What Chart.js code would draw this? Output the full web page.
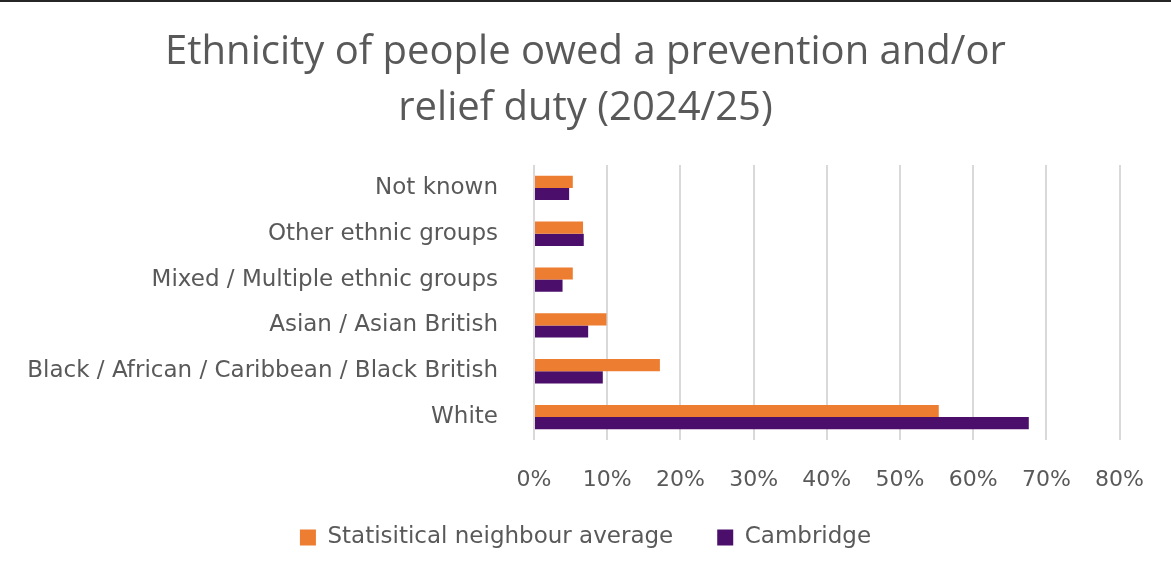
<!DOCTYPE html>
<html>
<head>
<meta charset="utf-8">
<script src="https://cdn.jsdelivr.net/npm/chart.js@4.4.1/dist/chart.umd.min.js"></script>
<style>
  html, body { margin: 0; padding: 0; background: #fff; }
  #wrap { width: 1171px; height: 577px; box-sizing: border-box; border-top: 2px solid #262626; }
</style>
</head>
<body>
<div id="wrap"><canvas id="ethnicityChart" width="1171" height="575"></canvas></div>
<script>
// ethnicity of households owed a duty, 2024/25 (share of total)
const categories = [
    'Not known',
    'Other ethnic groups',
    'Mixed / Multiple ethnic groups',
    'Asian / Asian British',
    'Black / African / Caribbean / Black British',
    'White'
];
const neighbourAvg = [5.3, 6.7, 5.3, 9.9, 17.2, 55.3];
const cambridge = [4.8, 6.8, 3.9, 7.4, 9.4, 67.6];
const xTicks = [0, 10, 20, 30, 40, 50, 60, 70, 80];

const textColor = '#595959';
const titleFont = '"Open Sans", "Noto Sans", sans-serif';
const labelFont = '"DejaVu Sans", "Noto Sans", sans-serif';

// legend padding also spaces the two items apart, so pull the box back up a bit
const legendLift = {
    id: 'legendLift',
    afterLayout(chart) {
        chart.legend.top -= 14;
        chart.legend.bottom -= 14;
    }
};

const ctx = document.getElementById('ethnicityChart').getContext('2d');

// eslint-disable-next-line no-undef
new Chart(ctx, {
    type: 'bar',
    data: {
        labels: categories,
        datasets: [
            {
                label: 'Statisitical neighbour average',
                data: neighbourAvg,
                backgroundColor: '#ed7d31',
                categoryPercentage: 0.53,
                barPercentage: 1
            },
            {
                label: 'Cambridge',
                data: cambridge,
                backgroundColor: '#4b0f6b',
                categoryPercentage: 0.53,
                barPercentage: 1
            }
        ]
    },
    options: {
        indexAxis: 'y',
        responsive: false,
        animation: false,
        layout: {
            padding: { left: 24, right: 24, top: 23, bottom: 4 }
        },
        scales: {
            x: {
                min: 0,
                max: 80,
                afterBuildTicks(scale) {
                    scale.ticks = xTicks.map(v => ({ value: v }));
                },
                afterFit(scale) {
                    scale.height = 56;
                },
                ticks: {
                    color: textColor,
                    font: { family: labelFont, size: 22 },
                    padding: 27,
                    callback: v => v + '%'
                },
                grid: {
                    color: '#d9d9d9',
                    lineWidth: 2,
                    drawTicks: false
                },
                border: { display: false }
            },
            y: {
                afterFit(scale) {
                    scale.width = 510;
                },
                ticks: {
                    color: textColor,
                    font: { family: labelFont, size: 23 },
                    padding: 28
                },
                grid: { display: false },
                border: { display: false }
            }
        },
        plugins: {
            title: {
                display: true,
                text: ['Ethnicity of people owed a prevention and/or', 'relief duty (2024/25)'],
                color: textColor,
                font: { family: titleFont, size: 40, weight: 'normal', lineHeight: 1.4 },
                padding: { top: 0, bottom: 28 }
            },
            legend: {
                position: 'bottom',
                labels: {
                    color: textColor,
                    font: { family: labelFont, size: 23 },
                    boxWidth: 16,
                    boxHeight: 16,
                    padding: 44
                }
            },
            tooltip: { enabled: false }
        }
    },
    plugins: [legendLift]
});
</script>
</body>
</html>
